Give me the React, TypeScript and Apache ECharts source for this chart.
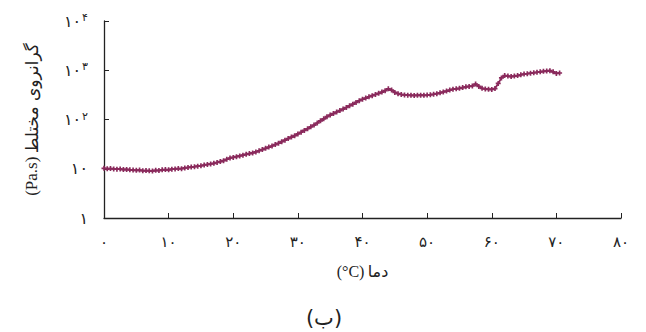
import React, { useEffect, useRef } from "react";
import * as echarts from "echarts";

const temperatures: number[] = [];
for (let i = 0; i <= 141; i++) temperatures.push(i * 0.5);

const viscosity: number[] = [
  10.2, 10.0, 10.1, 9.9, 9.8, 9.9, 9.6, 9.7, 9.5, 9.4,
  9.3, 9.4, 9.1, 9.2, 9.1, 9.0, 9.3, 9.2, 9.5, 9.6,
  9.5, 9.8, 9.9, 10.1, 10.0, 10.4, 10.6, 10.8, 11.0, 11.3,
  11.5, 11.9, 12.2, 12.5, 12.9, 13.4, 14.0, 14.6, 15.6, 16.5,
  17.0, 17.6, 18.2, 18.9, 19.6, 20.3, 21.0, 22.0, 23.2, 24.5,
  26, 27.5, 29, 31, 33, 35.5, 38, 41, 44, 47,
  51, 55, 60, 65, 71, 77, 85, 94, 103, 114,
  123, 132, 142, 152, 163, 175, 190, 205, 222, 240,
  258, 272, 290, 305, 322, 340, 360, 385, 420, 395,
  355, 335, 322, 315, 312, 310, 308, 310, 312, 309,
  313, 318, 325, 335, 348, 362, 378, 395, 412, 420,
  430, 445, 460, 470, 478, 525, 470, 430, 418, 410,
  408, 425, 540, 700, 780, 760, 745, 760, 780, 810,
  835, 850, 870, 890, 910, 930, 950, 965, 980, 930,
  860, 880,
];

const xTicks = [0, 10, 20, 30, 40, 50, 60, 70, 80];
const yTickLabels: Record<number, string> = {
  1: "{b|۱}",
  10: "{b|۱۰}",
  100: "{b|۱۰}{s|۲}",
  1000: "{b|۱۰}{s|۳}",
  10000: "{b|۱۰}{s|۴}",
};

const xAxisTitle = "{a|(°C)} {b|دما}";
const yAxisTitle = "{a|(Pa.s)} {b|گرانروی مختلط}";
const panelTitle = "(ب)";

const toPersian = (n: number) =>
  String(n).replace(/[0-9]/g, (d) => "۰۱۲۳۴۵۶۷۸۹"[+d]);

export default function App() {
  const ref = useRef<HTMLDivElement>(null);
  useEffect(() => {
    document.body.style.margin = "0";
    const chart = echarts.init(ref.current!, undefined, { renderer: "svg" });
    const data = temperatures.slice(0, viscosity.length).map((t, i) => [t, viscosity[i]]);
    const fa = "'DejaVu Sans', serif";
    const lat = "'Liberation Serif', serif";
    chart.setOption({
      animation: false,
      backgroundColor: "#ffffff",
      title: {
        text: panelTitle,
        left: 319,
        top: 302,
        textAlign: "center",
        textStyle: { fontFamily: fa, fontSize: 21, fontWeight: "normal", color: "#222" },
      },
      grid: { left: 104, right: 25, top: 21, bottom: 114 },
      xAxis: {
        type: "value",
        min: 0,
        max: 80,
        interval: 10,
        name: xAxisTitle,
        nameLocation: "middle",
        nameGap: 45,
        nameTextStyle: {
          rich: {
            a: { fontFamily: lat, fontSize: 16, color: "#222" },
            b: { fontFamily: fa, fontSize: 16, color: "#222" },
          },
        },
        axisLine: { lineStyle: { color: "#222", width: 1.3 } },
        axisTick: { inside: true, length: 5, lineStyle: { color: "#222" } },
        splitLine: { show: false },
        axisLabel: {
          margin: 16,
          fontFamily: fa,
          fontSize: 15,
          color: "#222",
          formatter: (v: number) => (xTicks.includes(v) ? toPersian(v) : ""),
        },
      },
      yAxis: {
        type: "log",
        logBase: 10,
        min: 1,
        max: 10000,
        name: yAxisTitle,
        nameLocation: "middle",
        nameGap: 64,
        nameRotate: 90,
        nameTextStyle: {
          rich: {
            a: { fontFamily: lat, fontSize: 17, color: "#222" },
            b: { fontFamily: fa, fontSize: 17, color: "#222" },
          },
        },
        axisLine: { show: true, lineStyle: { color: "#222", width: 1.3 } },
        axisTick: { inside: true, length: 5, lineStyle: { color: "#222" } },
        minorTick: { show: false },
        splitLine: { show: false },
        axisLabel: {
          margin: 16,
          color: "#222",
          formatter: (v: number) => yTickLabels[Math.round(v)] ?? "",
          rich: {
            b: { fontFamily: fa, fontSize: 16, lineHeight: 18, color: "#222" },
            s: { fontFamily: fa, fontSize: 11, lineHeight: 18, verticalAlign: "top", padding: [0, 0, 6, 1], color: "#222" },
          },
        },
      },
      series: [
        {
          type: "line",
          data,
          showSymbol: true,
          symbol: "path://M2,0H4V2H6V4H4V6H2V4H0V2H2Z",
          symbolSize: 5,
          itemStyle: { color: "#8a2a5c" },
          lineStyle: { color: "#8a2a5c", width: 1.8 },
        },
      ],
    });
    return () => chart.dispose();
  }, []);
  return (
    <div
      ref={ref}
      style={{ position: "absolute", left: 0, top: 0, width: 646, height: 332 }}
    />
  );
}
